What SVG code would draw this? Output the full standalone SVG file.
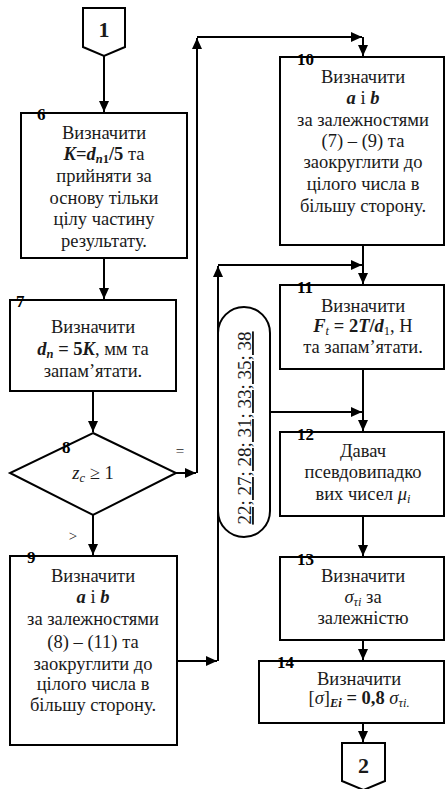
<svg xmlns="http://www.w3.org/2000/svg" width="446" height="789" viewBox="0 0 446 789">
<defs>
<style>
.box{fill:#fff;stroke:#000;stroke-width:2}
.t{font-size:18.5px;fill:#1a1a1a;text-anchor:middle}
.n{font-size:17px;font-weight:bold;fill:#000}
.c{fill:none;stroke:#000;stroke-width:2}
.bi{font-weight:bold;font-style:italic}
.b{font-weight:bold}
.i{font-style:italic}
</style>
<marker id="ah" markerUnits="userSpaceOnUse" markerWidth="12" markerHeight="10" refX="11" refY="5" orient="auto">
<path d="M0,0 L11,5 L0,10 z" fill="#000"/>
</marker>
</defs>
<rect width="446" height="789" fill="#fff"/>

<g id="connectors">
<path class="c" d="M104,56 V112" marker-end="url(#ah)"/>
<path class="c" d="M104,258 V299" marker-end="url(#ah)"/>
<path class="c" d="M93,391 V432" marker-end="url(#ah)"/>
<path class="c" d="M176,473 H196" marker-end="url(#ah)"/>
<path class="c" d="M197,473 V38" marker-end="url(#ah)"/>
<path class="c" d="M197,37 H362" marker-end="url(#ah)"/>
<path class="c" d="M363,37 V56" marker-end="url(#ah)"/>
<path class="c" d="M93,515 V555" marker-end="url(#ah)"/>
<path class="c" d="M177,661 H217" marker-end="url(#ah)"/>
<path class="c" d="M218,661 V266" marker-end="url(#ah)"/>
<path class="c" d="M218,265 H362" marker-end="url(#ah)"/>
<path class="c" d="M363,245 V284" marker-end="url(#ah)"/>
<path class="c" d="M363,369 V431" marker-end="url(#ah)"/>
<path class="c" d="M260,412 H362" marker-end="url(#ah)"/>
<path class="c" d="M363,516 V556" marker-end="url(#ah)"/>
<path class="c" d="M363,640 V660" marker-end="url(#ah)"/>
<path class="c" d="M363,723 V742" marker-end="url(#ah)"/>
</g>

<g font-family="Liberation Serif, Times New Roman, serif">
<g id="n1">
<path class="box" d="M83,8 H125 V47 L104,56 L83,47 Z"/>
<text class="t" x="104" y="37" style="font-size:22px;font-weight:bold">1</text>
</g>

<g id="n6">
<rect class="box" x="21" y="113" width="166" height="145"/>
<text class="n" x="37" y="120">6</text>
<text class="t" x="104" y="139">Визначити</text>
<text class="t" x="104" y="160"><tspan class="bi">K</tspan><tspan class="b">=</tspan><tspan class="bi">d</tspan><tspan class="bi" font-size="12.5" dy="3">n</tspan><tspan class="b" font-size="12.5">1</tspan><tspan class="b" dy="-3">/5</tspan> та</text>
<text class="t" x="104" y="182">прийняти за</text>
<text class="t" x="104" y="204">основу тільки</text>
<text class="t" x="104" y="225">цілу частину</text>
<text class="t" x="104" y="247">результату.</text>
</g>

<g id="n7">
<rect class="box" x="10" y="300" width="166" height="91"/>
<text class="n" x="16" y="307">7</text>
<text class="t" x="93" y="333">Визначити</text>
<text class="t" x="93" y="355"><tspan class="bi">d</tspan><tspan class="bi" font-size="12.5" dy="3">n</tspan><tspan class="b" dy="-3"> = 5</tspan><tspan class="bi">K</tspan>, мм та</text>
<text class="t" x="93" y="377">запам’ятати.</text>
</g>

<g id="n8">
<path class="box" d="M93,433 L176,473 L93,515 L10,473 Z"/>
<text class="n" x="62" y="453">8</text>
<text class="t" x="93" y="479"><tspan class="i">z</tspan><tspan class="i" font-size="12.5" dy="3">c</tspan><tspan dy="-3"> ≥ 1</tspan></text>
<text class="t" x="180" y="456" style="font-size:15px">=</text>
<text class="t" x="73" y="541" style="font-size:15px">&gt;</text>
</g>

<g id="n9">
<rect class="box" x="10" y="556" width="167" height="189"/>
<text class="n" x="27" y="563">9</text>
<text class="t" x="93" y="582">Визначити</text>
<text class="t" x="93" y="603"><tspan class="bi">a</tspan> і <tspan class="bi">b</tspan></text>
<text class="t" x="93" y="625">за залежностями</text>
<text class="t" x="93" y="648">(8) – (11) та</text>
<text class="t" x="93" y="670">заокруглити до</text>
<text class="t" x="93" y="690">цілого числа в</text>
<text class="t" x="93" y="711">більшу сторону.</text>
</g>

<g id="n10">
<rect class="box" x="280" y="57" width="164" height="188"/>
<text class="n" x="297" y="65">10</text>
<text class="t" x="363" y="83">Визначити</text>
<text class="t" x="363" y="104"><tspan class="bi">a</tspan> і <tspan class="bi">b</tspan></text>
<text class="t" x="363" y="126">за залежностями</text>
<text class="t" x="363" y="147">(7) – (9) та</text>
<text class="t" x="363" y="168">заокруглити до</text>
<text class="t" x="363" y="190">цілого числа в</text>
<text class="t" x="363" y="212">більшу сторону.</text>
</g>

<g id="n11">
<rect class="box" x="280" y="285" width="164" height="84"/>
<text class="n" x="297" y="293">11</text>
<text class="t" x="363" y="312">Визначити</text>
<text class="t" x="363" y="332"><tspan class="bi">F</tspan><tspan class="i" font-size="12.5" dy="3">t</tspan><tspan class="b" dy="-3"> = 2</tspan><tspan class="bi">T</tspan><tspan class="b">/</tspan><tspan class="bi">d</tspan><tspan font-size="12.5" dy="3">1</tspan><tspan dy="-3">, Н</tspan></text>
<text class="t" x="363" y="353">та запам’ятати.</text>
</g>

<g id="refs">
<rect class="box" x="218" y="307" width="52" height="230" rx="26" ry="26"/>
<text class="t" transform="translate(251,428) rotate(-90)" x="0" y="0" style="font-size:19px" text-decoration="underline">22; 27; 28; 31; 33; 35; 38</text>
</g>

<g id="n12">
<rect class="box" x="280" y="432" width="164" height="84"/>
<text class="n" x="297" y="440">12</text>
<text class="t" x="363" y="457">Давач</text>
<text class="t" x="363" y="478">псевдовипадко</text>
<text class="t" x="363" y="500">вих чисел <tspan class="i">μ</tspan><tspan class="i" font-size="12.5" dy="3">i</tspan></text>
</g>

<g id="n13">
<rect class="box" x="280" y="557" width="164" height="83"/>
<text class="n" x="297" y="565">13</text>
<text class="t" x="363" y="582">Визначити</text>
<text class="t" x="363" y="603"><tspan class="i">σ</tspan><tspan class="i" font-size="12.5" dy="3">τi</tspan><tspan dy="-3"> за</tspan></text>
<text class="t" x="363" y="624">залежністю</text>
</g>

<g id="n14">
<rect class="box" x="259" y="661" width="185" height="62"/>
<text class="n" x="277" y="668">14</text>
<text class="t" x="359" y="685">Визначити</text>
<text class="t" x="359" y="704">[<tspan class="i">σ</tspan>]<tspan class="bi" font-size="12.5" dy="3">Ei</tspan><tspan class="b" dy="-3"> = 0,8 </tspan><tspan class="i">σ</tspan><tspan class="i" font-size="12.5" dy="3">τi.</tspan></text>
</g>

<g id="n2">
<path class="box" d="M342,743 H385 V781 L363.5,790 L342,781 Z"/>
<text class="t" x="363.5" y="773" style="font-size:22px;font-weight:bold">2</text>
</g>
</g>
</svg>
